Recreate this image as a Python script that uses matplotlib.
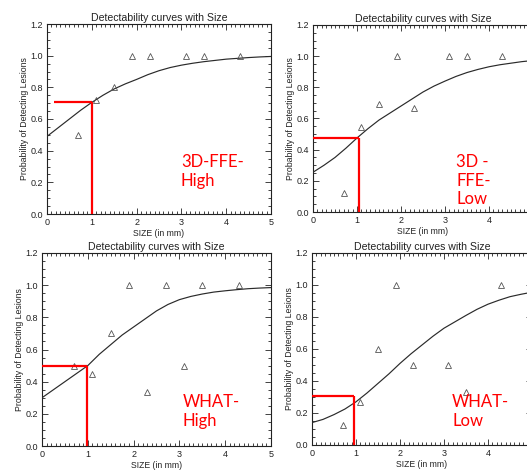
import matplotlib
matplotlib.use("Agg")
import matplotlib.pyplot as plt
from matplotlib.ticker import MultipleLocator

# ---------------- data ----------------
curve_x = [0, 0.25, 0.5, 0.75, 1, 1.25, 1.5, 1.75, 2, 2.25, 2.5,
           2.75, 3, 3.25, 3.5, 3.75, 4, 4.25, 4.5, 4.75, 5]

tl_curve = [0.49, 0.545, 0.60, 0.655, 0.705, 0.75, 0.79, 0.822, 0.85, 0.88, 0.905,
            0.925, 0.94, 0.952, 0.962, 0.97, 0.978, 0.983, 0.988, 0.992, 0.995]
tr_curve = [0.255, 0.30, 0.35, 0.41, 0.475, 0.535, 0.59, 0.635, 0.68, 0.725, 0.77,
            0.808, 0.84, 0.87, 0.895, 0.915, 0.932, 0.945, 0.955, 0.965, 0.972]
bl_curve = [0.30, 0.35, 0.40, 0.45, 0.50, 0.57, 0.63, 0.69, 0.74, 0.79, 0.84,
            0.88, 0.91, 0.93, 0.945, 0.957, 0.965, 0.972, 0.978, 0.982, 0.985]
br_curve = [0.14, 0.16, 0.19, 0.225, 0.27, 0.325, 0.385, 0.445, 0.51, 0.57, 0.625,
            0.68, 0.73, 0.77, 0.81, 0.848, 0.88, 0.905, 0.927, 0.942, 0.955]

top_sizes = [0.7, 1.1, 1.5, 1.9, 2.3, 3.1, 3.5, 4.3]
tl_points = [0.5, 0.72, 0.8, 1.0, 1.0, 1.0, 1.0, 1.0]
tr_points = [0.125, 0.545, 0.695, 1.0, 0.667, 1.0, 1.0, 1.0]

bl_sizes = [0.7, 1.1, 1.5, 1.9, 2.3, 2.7, 3.1, 3.5, 4.3]
bl_points = [0.5, 0.45, 0.7, 1.0, 0.333, 1.0, 0.5, 1.0, 1.0]

br_sizes = [0.7, 1.1, 1.5, 1.9, 2.3, 3.1, 3.5, 4.3]
br_points = [0.125, 0.27, 0.6, 1.0, 0.5, 0.5, 0.333, 1.0]

labels = ["3D-FFE-\nHigh", "3D -\nFFE-\nLow", "WHAT-\nHigh", "WHAT-\nLow"]
red_x = [1.01, 1.05, 0.98, 0.96]
red_y = [0.71, 0.476, 0.50, 0.308]
red_start = [0.15, 0.0, 0.0, 0.0]

title = "Detectability curves with Size"
xlabel = "SIZE (in mm)"
ylabel = "Probability of Detecting Lesions"
xticks = [0, 1, 2, 3, 4, 5]
yticks = [0.0, 0.2, 0.4, 0.6, 0.8, 1.0, 1.2]

# ---------------- layout (pixels) ----------------
W, H = 527, 470
fig = plt.figure(figsize=(W / 100, H / 100), dpi=100)
fig.patch.set_facecolor("white")

# (x0, x5, ytop, ybottom) in pixels
boxes = [
    (47, 271, 24, 214),
    (313, 533, 25, 212),
    (42, 271, 253, 446),
    (312, 532, 253, 445),
]
label_pos = [(181, 154), (456, 154), (183, 394), (452, 394)]
right_side = [False, True, False, True]

panels = [
    (top_sizes, tl_points, tl_curve),
    (top_sizes, tr_points, tr_curve),
    (bl_sizes, bl_points, bl_curve),
    (br_sizes, br_points, br_curve),
]

for i, (box, (sx, sy, cy)) in enumerate(zip(boxes, panels)):
    x0, x1, yt, yb = box
    ax = fig.add_axes([x0 / W, (H - yb) / H, (x1 - x0) / W, (yb - yt) / H])
    ax.set_xlim(0, 5)
    ax.set_ylim(0, 1.2)
    ax.plot(curve_x, cy, color="#2a2a2a", lw=0.85, zorder=3)
    ax.plot(sx, sy, linestyle="none", marker="^", markersize=4.5,
            markerfacecolor="none", markeredgecolor="#555555",
            markeredgewidth=0.6, zorder=4)
    ax.plot([red_start[i], red_x[i]], [red_y[i], red_y[i]], color="#ff0000",
            lw=1.6, zorder=5, solid_capstyle="butt")
    ax.plot([red_x[i], red_x[i]], [0, red_y[i]], color="#ff0000",
            lw=1.6, zorder=5, solid_capstyle="butt")

    ax.set_xticks(xticks)
    ax.set_yticks(yticks)
    xt_labels = [str(t) for t in xticks]
    if right_side[i]:
        xt_labels[-1] = ""
    ax.set_xticklabels(xt_labels)
    ax.set_yticklabels(["%.1f" % t for t in yticks])
    ax.xaxis.set_minor_locator(MultipleLocator(0.1))
    ax.yaxis.set_minor_locator(MultipleLocator(0.05))
    ax.tick_params(which="both", direction="in", top=True, right=True,
                   width=0.6, colors="#222222", labelsize=6.5, pad=3)
    ax.tick_params(which="major", length=4)
    ax.tick_params(which="minor", length=2)
    for t in ax.get_xticklabels() + ax.get_yticklabels():
        t.set_family("Liberation Sans")
    for s in ax.spines.values():
        s.set_linewidth(0.8)
        s.set_color("#222222")
    ax.set_title(title, fontsize=7.6, family="Liberation Sans", pad=2.5,
                 color="#222222")
    ax.set_xlabel(xlabel, fontsize=6.2, family="Liberation Sans", labelpad=1,
                  color="#222222")
    ax.set_ylabel(ylabel, fontsize=6.3, family="Liberation Sans", labelpad=1,
                  color="#222222")

    lx, ly = label_pos[i]
    fig.text(lx / W, (H - ly) / H, labels[i], color="#ff0000", fontsize=12,
             family="Lato", ha="left", va="top", linespacing=1.2)

fig.savefig("out.png", dpi=100, facecolor="white")
